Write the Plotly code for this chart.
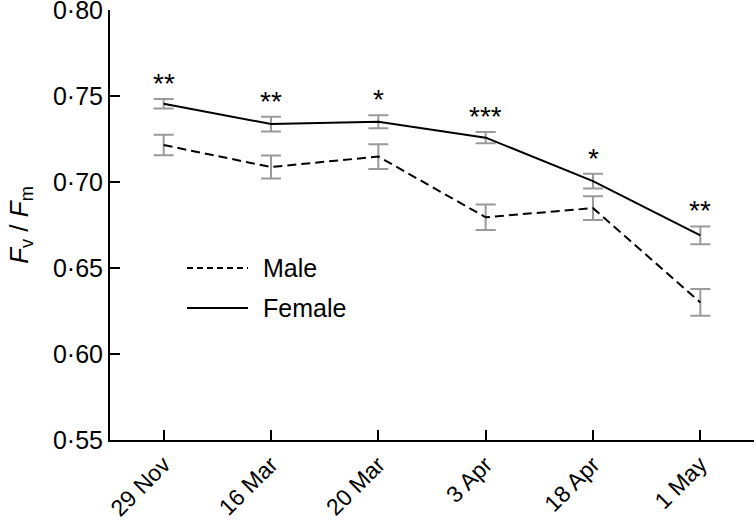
import plotly.graph_objects as go

dates = ["29 Nov", "16 Mar", "20 Mar", "3 Apr", "18 Apr", "1 May"]
female = [0.7455, 0.7337, 0.7350, 0.7258, 0.7005, 0.6690]
female_err = [0.0027, 0.0043, 0.0038, 0.0033, 0.0043, 0.0052]
male = [0.7215, 0.7087, 0.7148, 0.6795, 0.6848, 0.6300]
male_err = [0.0060, 0.0067, 0.0072, 0.0074, 0.0069, 0.0078]
signif = ["**", "**", "*", "***", "*", "**"]
y_ticks = [0.55, 0.60, 0.65, 0.70, 0.75, 0.80]
y_ticktext = ["0·55", "0·60", "0·65", "0·70", "0·75", "0·80"]

FONT = "Liberation Sans, Arial, Helvetica, sans-serif"
ERR_COLOR = "#9a9a9a"

fig = go.Figure()
fig.add_trace(go.Scatter(
    x=dates, y=male, mode="lines", name="Male",
    line=dict(color="black", width=2, dash="9px,5px"),
    error_y=dict(type="data", array=male_err, visible=True,
                 color=ERR_COLOR, thickness=2, width=10),
    showlegend=False,
))
fig.add_trace(go.Scatter(
    x=dates, y=female, mode="lines", name="Female",
    line=dict(color="black", width=2),
    error_y=dict(type="data", array=female_err, visible=True,
                 color=ERR_COLOR, thickness=2, width=10),
    showlegend=False,
))

for d, f, e, s in zip(dates, female, female_err, signif):
    fig.add_annotation(x=d, y=f + e, text=s, showarrow=False,
                       xref="x", yref="y", yanchor="bottom", yshift=-2,
                       font=dict(family=FONT, size=28, color="black"))

# manual legend (paper coordinates)
legend_items = [("Male", "dash"), ("Female", "solid")]
W, H = 756, 521
ml, mr, mt, mb = 110, 2, 10, 81
pw, ph = W - ml - mr, H - mt - mb
def px_to_paper(x, y):
    return (x - ml) / pw, 1 - (y - mt) / ph
for (label, dash), ypx in zip(legend_items, [268, 308]):
    x0, yy = px_to_paper(187, ypx)
    x1, _ = px_to_paper(248, ypx)
    fig.add_shape(type="line", xref="paper", yref="paper", x0=x0, x1=x1, y0=yy, y1=yy,
                  line=dict(color="black", width=2, dash="6px,4px" if dash == "dash" else "solid"))
    tx, _ = px_to_paper(261, ypx)
    fig.add_annotation(xref="paper", yref="paper", x=tx, y=yy, text=label, showarrow=False,
                       xanchor="left", yanchor="middle",
                       font=dict(family=FONT, size=25, color="black"))

fig.update_layout(
    width=W, height=H,
    margin=dict(l=ml, r=mr, t=mt, b=mb, autoexpand=False),
    paper_bgcolor="white", plot_bgcolor="white",
    font=dict(family=FONT, color="black"),
    showlegend=False,
)
fig.update_xaxes(
    type="category", range=[-0.5, 5.5], automargin=False,
    showline=True, linecolor="black", linewidth=2,
    ticks="inside", ticklen=10, tickwidth=2, tickcolor="black",
    tickangle=-45, tickfont=dict(family=FONT, size=23, color="black"),
    ticklabeloverflow="allow",
    showgrid=False, zeroline=False,
)
fig.update_yaxes(
    range=[0.55, 0.80001], automargin=False,
    tickvals=y_ticks, ticktext=y_ticktext,
    showline=True, linecolor="black", linewidth=2,
    ticks="inside", ticklen=10, tickwidth=2, tickcolor="black",
    tickfont=dict(family=FONT, size=25, color="black"),
    ticklabeloverflow="allow",
    showgrid=False, zeroline=False,
    title=dict(text="<i>F</i><sub>v</sub> / <i>F</i><sub>m</sub>",
               font=dict(family=FONT, size=26, color="black"), standoff=17),
)

fig.write_html("out.html", config={"displayModeBar": False},
               post_script="document.body.style.margin='0';document.body.style.padding='0';")
